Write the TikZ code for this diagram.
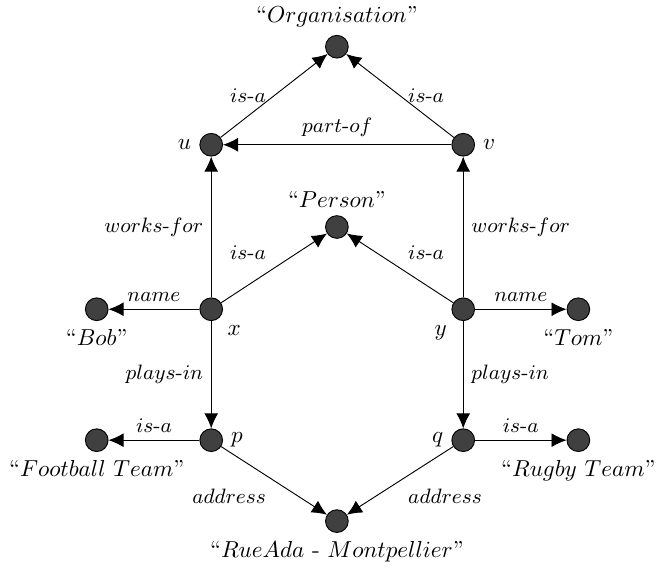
\documentclass[tikz,border=0pt]{standalone}
\usepackage{amsmath}
\usepackage{xcolor}
\usepackage{tikz}
\usetikzlibrary{arrows.meta}

\begin{document}
\begin{tikzpicture}[>={Latex[length=6.5pt,width=6pt]},
        vertex/.style={draw, circle, fill=black!75, minimum size=0.345cm, inner sep=0pt},
        rel/.style={font=\small}]
            \useasboundingbox (0,0) rectangle (9.97,8.77);

            % Organisations
            \node[vertex, label=above:{``$Organisation$''}] (Org) at (5.12,8.06) {};
            \node[vertex, label=left:{$u$}] (U) at (3.21,6.57) {};
            \node[vertex, label=right:{$v$}] (V) at (7.04,6.57) {};

            % Persons
            \node[vertex, label=above:{``$Person$''}] (Person) at (5.12,5.32) {};
            \node[vertex, label=below right:{$x$}] (X) at (3.21,4.07) {};
            \node[vertex, label=below left:{$y$}] (Y) at (7.04,4.07) {};
            \node[vertex, label=below:{``$Bob$''}] (Bob) at (1.47,4.07) {};
            \node[vertex, label=below:{``$Tom$''}] (Tom) at (8.79,4.07) {};

            % Teams
            \node[vertex, label=right:{$p$}] (P) at (3.21,2.08) {};
            \node[vertex, label=left:{$q$}] (Q) at (7.04,2.08) {};
            \node[vertex, label=below:{``$Football$ $Team$''}] (Football) at (1.47,2.08) {};
            \node[vertex, label=below:{``$Rugby$ $Team$''}] (Rugby) at (8.79,2.08) {};
            \node[vertex, label=below:{``$RueAda$ - $Montpellier$''}] (Rue) at (5.12,0.85) {};

            % Relations between the nodes
            \foreach \from/\to/\txt/\side in {
                U/Org/{$is$-$a$}/left,
                V/Org/{$is$-$a$}/right,
                V/U/{$part$-$of$}/above,
                X/U/{$works$-$for$}/left,
                Y/V/{$works$-$for$}/right,
                X/Person/{$is$-$a$}/above left,
                Y/Person/{$is$-$a$}/above right,
                X/Bob/{$name$}/above,
                Y/Tom/{$name$}/above,
                X/P/{$plays$-$in$}/left,
                Y/Q/{$plays$-$in$}/right,
                P/Football/{$is$-$a$}/above,
                Q/Rugby/{$is$-$a$}/above,
                P/Rue/{$address$}/below left,
                Q/Rue/{$address$}/below right}
            {
                \draw[->] (\from) -- node[rel, \side] {\txt} (\to);
            }

        \end{tikzpicture}
\end{document}
